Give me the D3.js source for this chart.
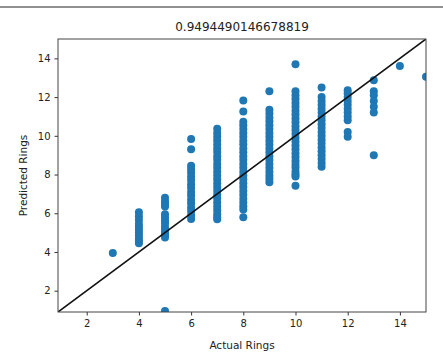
<!DOCTYPE html>
<html>
<head>
<meta charset="utf-8">
<script src="https://cdn.jsdelivr.net/npm/d3@7"></script>
<style>
  body { margin: 0; background: #fff; }
  text { font-family: "DejaVu Sans", sans-serif; fill: #222; }
</style>
</head>
<body>
<div id="chart"></div>
<script>
var rings = [3, 4, 5, 6, 7, 8, 9, 10, 11, 12, 13, 14, 15];
var predicted = [
    [3.95],
    [6.05, 5.85, 5.65, 5.45, 5.3, 5.15, 5.0, 4.85, 4.7, 4.55, 4.45],
    [6.8, 6.62, 6.48, 6.35, 5.95, 5.8, 5.62, 5.48, 5.3, 5.15, 5.0, 4.88, 4.75, 0.95],
    [9.84, 9.3, 8.46, 8.28, 8.1, 7.9, 7.72, 7.5, 7.32, 7.1, 6.92, 6.7, 6.52, 6.3, 6.12, 5.9, 5.7],
    [10.36, 10.15, 9.95, 9.76, 9.55, 9.35, 9.16, 8.95, 8.76, 8.55, 8.35, 8.15, 7.95, 7.76, 7.55,
     7.35, 7.16, 6.95, 6.76, 6.55, 6.35, 6.15, 5.95, 5.8, 5.69],
    [11.83, 11.25, 10.73, 10.55, 10.35, 10.15, 9.95, 9.75, 9.56, 9.35, 9.15, 8.95, 8.76, 8.55,
     8.35, 8.15, 7.95, 7.75, 7.55, 7.35, 7.15, 6.95, 6.75, 6.55, 6.36, 6.2, 5.8],
    [12.3, 11.35, 11.15, 10.95, 10.75, 10.55, 10.35, 10.15, 9.95, 9.75, 9.55, 9.35, 9.15,
     8.95, 8.75, 8.55, 8.35, 8.15, 7.95, 7.78, 7.6],
    [13.7, 12.3, 12.1, 11.9, 11.7, 11.5, 11.3, 11.1, 10.9, 10.7, 10.5, 10.3, 10.1, 9.9, 9.7,
     9.5, 9.3, 9.1, 8.9, 8.7, 8.5, 8.35, 8.15, 8.0, 7.9, 7.42],
    [12.5, 12.0, 11.8, 11.6, 11.4, 11.2, 11.0, 10.8, 10.6, 10.4, 10.2, 10.0, 9.8, 9.6, 9.4,
     9.2, 9.0, 8.8, 8.6, 8.4],
    [12.35, 12.2, 12.0, 11.8, 11.6, 11.4, 11.2, 11.0, 10.8, 10.2, 9.95],
    [12.87, 12.3, 12.1, 11.8, 11.5, 11.2, 9.0],
    [13.6],
    [13.05]
];
var xTicks = [2, 4, 6, 8, 10, 12, 14];
var yTicks = [2, 4, 6, 8, 10, 12, 14];
var title = "0.9494490146678819";

// flatten into points
var data = [];
rings.forEach(function(r, i) {
    predicted[i].forEach(function(p) {
        data.push({actual: r, pred: p});
    });
});

var W = 443, H = 359;
var margin = {top: 39, right: 17, bottom: 47, left: 58},
    width = W - margin.left - margin.right,
    height = H - margin.top - margin.bottom;

var x = d3.scaleLinear().domain([0.9, 15]).range([0, width]);
var y = d3.scaleLinear().domain([0.9, 15]).range([height, 0]);

var root = d3.select("#chart").append("svg")
    .attr("width", W)
    .attr("height", H);

// notebook cell separator at the top
root.append("line")
    .attr("x1", 0).attr("x2", W)
    .attr("y1", 7).attr("y2", 7)
    .attr("stroke", "#222")
    .attr("stroke-width", 1.2);

var svg = root.append("g")
    .attr("transform", "translate(" + margin.left + "," + margin.top + ")");

svg.append("clipPath").attr("id", "clip")
    .append("rect")
    .attr("width", width)
    .attr("height", height);

var plot = svg.append("g").attr("clip-path", "url(#clip)");

plot.selectAll(".dot")
    .data(data)
    .enter().append("circle")
    .attr("class", "dot")
    .attr("cx", function(d) { return x(d.actual); })
    .attr("cy", function(d) { return y(d.pred); })
    .attr("r", 4)
    .attr("fill", "#1f77b4");

// perfect prediction line
var lim = x.domain();
plot.append("line")
    .attr("x1", x(lim[0])).attr("y1", y(lim[0]))
    .attr("x2", x(lim[1])).attr("y2", y(lim[1]))
    .attr("stroke", "#111")
    .attr("stroke-width", 1.6);

// axes
var xAxis = svg.append("g")
    .attr("transform", "translate(0," + height + ")")
    .call(d3.axisBottom(x).tickValues(xTicks).tickSize(3.5).tickPadding(4));
var yAxis = svg.append("g")
    .call(d3.axisLeft(y).tickValues(yTicks).tickSize(3.5).tickPadding(4));

[xAxis, yAxis].forEach(function(a) {
    a.select(".domain").remove();
    a.selectAll("line").attr("stroke", "#333");
    a.selectAll("text")
        .style("font-family", "DejaVu Sans, sans-serif")
        .style("font-size", "10px")
        .attr("fill", "#222");
});

// frame
svg.append("rect")
    .attr("width", width)
    .attr("height", height)
    .attr("fill", "none")
    .attr("stroke", "#444")
    .attr("stroke-width", 1);

// title and labels
svg.append("text")
    .attr("x", width / 2)
    .attr("y", -8)
    .style("text-anchor", "middle")
    .style("font-size", "12px")
    .text(title);

svg.append("text")
    .attr("x", width / 2)
    .attr("y", height + 37)
    .style("text-anchor", "middle")
    .style("font-size", "10.5px")
    .text("Actual Rings");

svg.append("text")
    .attr("transform", "translate(" + (-31) + "," + (height / 2) + ") rotate(-90)")
    .style("text-anchor", "middle")
    .style("font-size", "10.5px")
    .text("Predicted Rings");
</script>
</body>
</html>
